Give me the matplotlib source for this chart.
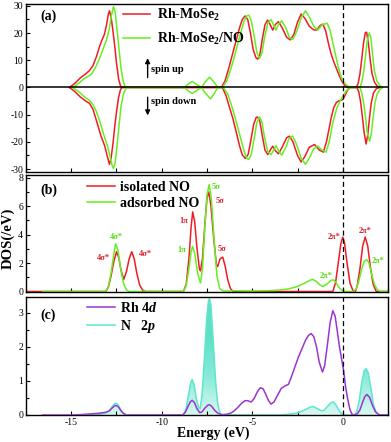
import numpy as np
import matplotlib
matplotlib.use('Agg')
import matplotlib.pyplot as plt
from matplotlib.ticker import MultipleLocator, NullFormatter
from matplotlib.colors import LinearSegmentedColormap

plt.rcParams['font.family'] = 'Liberation Serif'
plt.rcParams['mathtext.fontset'] = 'custom'
plt.rcParams['mathtext.rm'] = 'Liberation Serif:bold'
plt.rcParams['mathtext.bf'] = 'Liberation Serif:bold'
plt.rcParams['mathtext.it'] = 'Liberation Serif:bold:italic'
plt.rcParams['axes.unicode_minus'] = False

# ---- panel (a): total DOS, (energy, DOS) points
a_red_up = [(-15.1, 0), (-14.8, 1.5), (-14.5, 3.5), (-14.2, 5.0), (-14.0, 6.2), (-13.8, 8), (-13.6, 11.5),
            (-13.44, 15), (-13.3, 17.5), (-13.17, 19.5), (-13.05, 23), (-12.95, 27), (-12.89, 28.2),
            (-12.8, 26), (-12.7, 21), (-12.61, 16), (-12.5, 9), (-12.38, 3), (-12.28, 0.6), (-12.2, 0),
            (-6.7, 0), (-6.5, 2.5), (-6.3, 7), (-6.1, 12), (-5.9, 17), (-5.7, 22), (-5.55, 25), (-5.4, 26.3),
            (-5.25, 25), (-5.1, 20), (-4.95, 14), (-4.8, 11), (-4.7, 10.4), (-4.58, 12), (-4.45, 17.5),
            (-4.3, 23), (-4.15, 24.8), (-4.0, 23), (-3.87, 21.1), (-3.72, 23.2), (-3.55, 24.2), (-3.35, 22),
            (-3.1, 18.5), (-2.9, 17.5), (-2.7, 19.5), (-2.5, 24), (-2.3, 27), (-2.1, 25.5), (-1.85, 22.5),
            (-1.6, 21.2), (-1.45, 21.1), (-1.25, 22.8), (-1.1, 23.3), (-0.95, 21), (-0.8, 16.5),
            (-0.65, 12.5), (-0.5, 9.5), (-0.35, 7), (-0.2, 4.5), (-0.05, 2.3), (0.1, 0.8), (0.25, 0),
            (0.75, 0), (0.85, 1.5), (0.95, 5), (1.05, 10.5), (1.15, 16.5), (1.25, 20.2), (1.32, 20.3),
            (1.42, 16), (1.52, 10), (1.62, 5), (1.75, 2), (1.9, 0.5), (2.05, 0)]
a_green_up = [(-14.9, 0), (-14.6, 1.5), (-14.3, 3.2), (-14.0, 4.3), (-13.85, 5.2), (-13.65, 7.5),
              (-13.45, 10.5), (-13.25, 14), (-13.05, 17.5), (-12.9, 21.5), (-12.78, 26.5), (-12.67, 29.7),
              (-12.58, 28), (-12.48, 22), (-12.36, 14), (-12.24, 6.5), (-12.12, 2), (-12.0, 0),
              (-8.75, 0), (-8.55, 1.2), (-8.32, 2.2), (-8.1, 1.2), (-7.8, 0), (-7.6, 2), (-7.36, 3.8),
              (-7.12, 2), (-6.9, 0),
              (-6.65, 0), (-6.4, 2.5), (-6.2, 6.5), (-6.0, 11), (-5.8, 16), (-5.6, 21), (-5.45, 24.5),
              (-5.3, 26.3), (-5.19, 26.6), (-5.05, 24.5), (-4.9, 19), (-4.75, 13), (-4.6, 10.7),
              (-4.47, 12.5), (-4.33, 18), (-4.15, 23.5), (-3.96, 25), (-3.82, 23), (-3.69, 21.1),
              (-3.53, 23.5), (-3.37, 24.5), (-3.15, 22), (-2.95, 18.5), (-2.76, 17.7), (-2.55, 20.5),
              (-2.3, 25.5), (-2.06, 28.2), (-1.85, 26), (-1.6, 22.5), (-1.38, 21.1), (-1.15, 23),
              (-0.85, 23.6), (-0.7, 21), (-0.55, 16.5), (-0.4, 12), (-0.25, 7.5), (-0.1, 4), (0.05, 2),
              (0.25, 0.6), (0.45, 0),
              (0.95, 0), (1.05, 2), (1.15, 5.5), (1.25, 11), (1.35, 17), (1.46, 20), (1.55, 18.5),
              (1.65, 12), (1.75, 6), (1.88, 2.5), (2.05, 0.7), (2.2, 0)]
a_red_dn = [(-15.1, 0), (-14.8, -1.5), (-14.5, -3.5), (-14.2, -5), (-14.0, -5.8), (-13.8, -8),
            (-13.55, -13.5), (-13.35, -18), (-13.15, -21.5), (-13.0, -25.5), (-12.89, -28.3), (-12.8, -26),
            (-12.7, -21), (-12.6, -14.5), (-12.48, -8), (-12.38, -3.5), (-12.28, -0.8), (-12.2, 0),
            (-6.65, 0), (-6.45, -3), (-6.25, -7.5), (-6.08, -11.2), (-5.9, -16), (-5.7, -21.5),
            (-5.55, -24.8), (-5.38, -26.1), (-5.22, -24.5), (-5.08, -19.5), (-4.92, -13.5), (-4.78, -11),
            (-4.7, -10.9), (-4.58, -12.5), (-4.45, -17.5), (-4.3, -23), (-4.14, -24.7), (-4.0, -23),
            (-3.87, -21.6), (-3.72, -23.3), (-3.55, -24.4), (-3.35, -22), (-3.1, -18.5), (-2.94, -17.9),
            (-2.75, -20), (-2.5, -25), (-2.3, -27.4), (-2.1, -25.5), (-1.85, -22), (-1.56, -21),
            (-1.3, -23), (-1.07, -23.8), (-0.9, -20), (-0.75, -15), (-0.64, -11.2), (-0.5, -7.5),
            (-0.35, -5.5), (-0.2, -4.9), (0.0, -4.5), (0.12, -3), (0.25, -1.2), (0.37, 0),
            (0.78, 0), (0.88, -1.5), (0.98, -5), (1.08, -10.5), (1.18, -16.5), (1.29, -20.8),
            (1.38, -17.5), (1.48, -11), (1.58, -5.5), (1.7, -2), (1.85, -0.5), (2.03, 0)]
a_green_dn = [(-14.92, 0), (-14.6, -1.5), (-14.3, -3.3), (-14.0, -4.8), (-13.8, -6.3), (-13.6, -9),
              (-13.4, -13), (-13.2, -17.5), (-13.0, -21.5), (-12.85, -25.5), (-12.75, -28.5),
              (-12.67, -29.8), (-12.58, -28), (-12.48, -22), (-12.36, -14), (-12.24, -6.5), (-12.1, -2),
              (-11.93, 0),
              (-8.75, 0), (-8.55, -1.2), (-8.32, -2.2), (-8.1, -1.2), (-7.8, 0), (-7.6, -2), (-7.3, -4.2),
              (-7.1, -2.2), (-6.9, 0),
              (-6.6, 0), (-6.35, -2.5), (-6.15, -6.5), (-5.95, -11), (-5.75, -16), (-5.55, -21),
              (-5.4, -24.5), (-5.28, -26.2), (-5.19, -26.5), (-5.05, -24.5), (-4.9, -19), (-4.75, -13),
              (-4.6, -10.9), (-4.47, -12.5), (-4.33, -18), (-4.15, -23.5), (-3.96, -24.7), (-3.82, -23),
              (-3.69, -21.4), (-3.53, -23.5), (-3.37, -24.9), (-3.15, -22), (-2.95, -18.5),
              (-2.76, -17.9), (-2.55, -21), (-2.3, -26), (-2.06, -28.3), (-1.85, -26), (-1.6, -22.5),
              (-1.38, -21.6), (-1.15, -23), (-0.92, -23.8), (-0.75, -20), (-0.55, -13), (-0.33, -7.6),
              (-0.15, -5), (0.0, -3.3), (0.2, -1.2), (0.46, 0),
              (0.95, 0), (1.05, -2), (1.15, -5.5), (1.25, -10.5), (1.35, -16.5), (1.48, -19.8),
              (1.58, -17), (1.68, -11), (1.78, -5.5), (1.9, -2.5), (2.05, -0.7), (2.2, 0)]

# ---- panel (b): NO molecule DOS
b_isolated = [(-17.5, 0), (-13.1, 0), (-12.95, 0.3), (-12.8, 1.1), (-12.65, 2.1), (-12.5, 2.8), (-12.38, 2.4),
              (-12.25, 1.5), (-12.1, 0.85), (-11.95, 1.4), (-11.8, 2.3), (-11.66, 2.8), (-11.52, 2.3),
              (-11.38, 1.3), (-11.22, 0.45), (-11.05, 0.08), (-10.9, 0),
              (-8.8, 0), (-8.65, 0.5), (-8.5, 2.3), (-8.38, 4.5), (-8.29, 5.6), (-8.18, 4.9), (-8.05, 3.0),
              (-7.92, 1.6), (-7.86, 1.45), (-7.75, 2.3), (-7.62, 4.7), (-7.5, 6.6), (-7.4, 7.0),
              (-7.28, 6.0), (-7.12, 3.6), (-6.98, 1.9), (-6.91, 1.76), (-6.78, 2.3), (-6.63, 2.42),
              (-6.5, 1.8), (-6.35, 0.8), (-6.2, 0.2), (-6.05, 0),
              (-0.55, 0), (-0.4, 0.6), (-0.25, 2.0), (-0.1, 3.4), (0.0, 3.83), (0.1, 3.4), (0.25, 1.9),
              (0.4, 0.6), (0.55, 0.1), (0.7, 0), (0.8, 0.4), (0.95, 1.6), (1.1, 3.2), (1.24, 3.83),
              (1.38, 3.2), (1.53, 1.7), (1.68, 0.5), (1.85, 0), (2.5, 0)]
b_adsorbed = [(-16.6, 0), (-13.1, 0), (-12.95, 0.35), (-12.8, 1.3), (-12.65, 2.6), (-12.55, 3.36),
              (-12.42, 2.9), (-12.28, 1.7), (-12.12, 0.6), (-11.95, 0.1), (-11.8, 0),
              (-8.8, 0), (-8.65, 0.4), (-8.5, 1.6), (-8.38, 2.8), (-8.3, 3.17), (-8.18, 2.7), (-8.02, 1.3),
              (-7.86, 0.6), (-7.75, 1.6), (-7.62, 4.5), (-7.5, 6.8), (-7.38, 7.53), (-7.25, 6.4),
              (-7.1, 3.5), (-6.95, 1.1), (-6.8, 0.2), (-6.6, 0.03), (-6.0, 0.05), (-5.0, 0.03),
              (-4.2, 0.05), (-3.5, 0.1), (-3.0, 0.18), (-2.5, 0.35), (-2.1, 0.6), (-1.8, 0.8),
              (-1.66, 0.85), (-1.45, 0.7), (-1.25, 0.45), (-1.1, 0.35), (-0.9, 0.5), (-0.65, 0.78),
              (-0.51, 0.82), (-0.38, 0.65), (-0.22, 0.3), (-0.05, 0.08), (0.15, 0),
              (0.6, 0), (0.75, 0.2), (0.9, 0.8), (1.05, 1.6), (1.18, 2.1), (1.32, 2.25), (1.45, 2.0),
              (1.6, 1.2), (1.75, 0.5), (1.9, 0.15), (2.05, 0), (2.5, 0)]
b_labels = [('4σ*', -12.52, 3.82, 'g'), ('4σ*', -13.2, 2.37, 'r'), ('4σ*', -10.9, 2.65, 'r'),
            ('1π', -8.8, 4.95, 'r'), ('1π', -8.9, 2.94, 'g'), ('5σ', -7.0, 7.35, 'g'),
            ('5σ', -6.8, 6.4, 'r'), ('5σ', -6.66, 2.96, 'r'), ('2π*', -0.92, 1.06, 'g'),
            ('2π*', -0.46, 3.87, 'r'), ('2π*', 1.24, 4.23, 'r'), ('2π*', 1.95, 2.14, 'g')]

# ---- panel (c): projected DOS
c_rh4d = [(-16.6, 0), (-15.0, 0), (-14.5, 0.01), (-14.0, 0.03), (-13.5, 0.05), (-13.1, 0.08), (-12.9, 0.12),
          (-12.75, 0.2), (-12.6, 0.27), (-12.52, 0.28), (-12.4, 0.24), (-12.25, 0.12), (-12.1, 0.04),
          (-11.95, 0), (-8.85, 0), (-8.7, 0.08), (-8.55, 0.25), (-8.42, 0.39), (-8.32, 0.43), (-8.2, 0.37),
          (-8.05, 0.18), (-7.9, 0.07), (-7.8, 0.08), (-7.62, 0.2), (-7.45, 0.29), (-7.36, 0.3),
          (-7.25, 0.26), (-7.08, 0.14), (-6.9, 0.05), (-6.7, 0.01), (-6.45, 0.02), (-6.2, 0.05),
          (-6.0, 0.12), (-5.8, 0.22), (-5.6, 0.34), (-5.4, 0.42), (-5.25, 0.42), (-5.06, 0.38),
          (-4.9, 0.48), (-4.72, 0.68), (-4.55, 0.8), (-4.4, 0.77), (-4.25, 0.6), (-4.1, 0.42),
          (-3.96, 0.32), (-3.8, 0.38), (-3.6, 0.58), (-3.4, 0.78), (-3.2, 0.85), (-3.0, 0.9),
          (-2.85, 1.1), (-2.65, 1.4), (-2.45, 1.7), (-2.25, 1.95), (-2.05, 2.2), (-1.9, 2.33),
          (-1.75, 2.39), (-1.6, 2.3), (-1.45, 2.0), (-1.3, 1.55), (-1.12, 1.26), (-1.0, 1.45),
          (-0.85, 2.05), (-0.7, 2.7), (-0.55, 3.06), (-0.42, 2.9), (-0.3, 2.45), (-0.18, 2.0),
          (-0.05, 1.6), (0.05, 1.3), (0.15, 0.85), (0.28, 0.45), (0.4, 0.15), (0.52, 0.02), (0.62, 0),
          (0.8, 0.03), (0.95, 0.15), (1.1, 0.38), (1.22, 0.54), (1.33, 0.6), (1.48, 0.52), (1.63, 0.3),
          (1.8, 0.1), (1.97, 0.02), (2.12, 0), (2.5, 0)]
c_n2p = [(-14.0, 0), (-13.5, 0.02), (-13.1, 0.06), (-12.9, 0.12), (-12.75, 0.24), (-12.6, 0.33),
         (-12.52, 0.35), (-12.4, 0.29), (-12.25, 0.14), (-12.1, 0.04), (-11.95, 0),
         (-8.8, 0), (-8.65, 0.2), (-8.5, 0.65), (-8.4, 0.95), (-8.32, 1.04), (-8.22, 0.9), (-8.08, 0.45),
         (-7.95, 0.2), (-7.88, 0.19), (-7.78, 0.55), (-7.65, 1.6), (-7.52, 2.8), (-7.42, 3.35),
         (-7.36, 3.42), (-7.28, 3.2), (-7.16, 2.2), (-7.02, 0.95), (-6.9, 0.3), (-6.78, 0.05), (-6.65, 0),
         (-3.5, 0), (-3.0, 0.02), (-2.5, 0.06), (-2.1, 0.15), (-1.8, 0.23), (-1.66, 0.25), (-1.45, 0.2),
         (-1.2, 0.13), (-1.05, 0.13), (-0.85, 0.25), (-0.65, 0.36), (-0.51, 0.38), (-0.38, 0.3),
         (-0.2, 0.13), (-0.05, 0.03), (0.1, 0), (0.65, 0), (0.78, 0.1), (0.92, 0.45), (1.05, 0.95),
         (1.18, 1.3), (1.29, 1.36), (1.4, 1.25), (1.55, 0.8), (1.7, 0.3), (1.85, 0.07), (2.0, 0), (2.5, 0)]

RED = '#ee1c25'
GREEN = '#66ee22'
PURPLE = '#9b35d0'
CYAN = '#5fe6cc'
cols = {'r': '#e0202a', 'g': '#55dd11'}
leg_font = {'weight': 'bold', 'size': 10}


def xy(pts):
    arr = np.array(pts, dtype=float)
    return arr[:, 0], arr[:, 1]


fig = plt.figure(figsize=(3.91, 4.42), dpi=100)
W, H = 391.0, 442.0
L, R = 26 / W, 388 / W


def box(top, bot):
    return [L, 1 - bot / H, R - L, (bot - top) / H]


ax_a = fig.add_axes(box(4, 172))
ax_b = fig.add_axes(box(175, 291.5))
ax_c = fig.add_axes(box(296.7, 415))

# (a)
e, v = xy(a_red_up)
ax_a.plot(e, v, color=RED, lw=1.1, label='Rh-MoSe$_2$')
e, v = xy(a_green_up)
ax_a.plot(e, v, color=GREEN, lw=1.1, label='Rh-MoSe$_2$/NO')
e, v = xy(a_red_dn)
ax_a.plot(e, v, color=RED, lw=1.1)
e, v = xy(a_green_dn)
ax_a.plot(e, v, color=GREEN, lw=1.1)
ax_a.axhline(0, color='k', lw=1.1, zorder=3)
ax_a.set_ylim(-31.1, 30.7)
ax_a.yaxis.set_major_locator(MultipleLocator(10))
ax_a.yaxis.set_minor_locator(MultipleLocator(5))
ax_a.legend(loc='upper left', bbox_to_anchor=(0.268, 0.985), frameon=False, prop=leg_font,
            handlelength=1.95, handletextpad=0.5, labelspacing=0.62, borderpad=0, borderaxespad=0)
ax_a.text(0.039, 0.925, '(a)', transform=ax_a.transAxes, fontsize=10, fontweight='bold', va='center')
ax_a.annotate('', xy=(-10.78, 11.8), xytext=(-10.78, 2.6),
              arrowprops=dict(arrowstyle='-|>', color='k', lw=1.0, mutation_scale=7))
ax_a.annotate('', xy=(-10.78, -11.3), xytext=(-10.78, -2.6),
              arrowprops=dict(arrowstyle='-|>', color='k', lw=1.0, mutation_scale=7))
ax_a.text(-10.6, 6.6, 'spin up', fontsize=7.5, fontweight='bold', va='center')
ax_a.text(-10.6, -5.3, 'spin down', fontsize=7.5, fontweight='bold', va='center')

# (b)
e, v = xy(b_isolated)
ax_b.plot(e, v, color=RED, lw=1.1, label='isolated NO')
e, v = xy(b_adsorbed)
ax_b.plot(e, v, color=GREEN, lw=1.1, label='adsorbed NO')
ax_b.set_ylim(0, 8.2)
ax_b.yaxis.set_major_locator(MultipleLocator(2))
ax_b.yaxis.set_minor_locator(MultipleLocator(1))
ax_b.legend(loc='upper left', bbox_to_anchor=(0.1685, 0.95), frameon=False, prop=leg_font,
            handlelength=2.0, handletextpad=0.4, labelspacing=0.25, borderpad=0, borderaxespad=0)
ax_b.text(0.039, 0.87, '(b)', transform=ax_b.transAxes, fontsize=10, fontweight='bold', va='center')
for txt, ex, yv, c in b_labels:
    ax_b.text(ex, yv, txt, color=cols[c], fontsize=6, fontweight='bold', ha='center', va='center')

# (c)
e, v = xy(c_n2p)
fill = ax_c.fill_between(e, 0, v, color='none', lw=0)
grad = LinearSegmentedColormap.from_list('g', ['#d8f8f1', '#86eada', '#5ee0c6', '#5ee0c6'])
img = ax_c.imshow(np.linspace(0, 1, 256).reshape(-1, 1), extent=[-17.5, 2.5, 0, 3.5],
                  origin='lower', aspect='auto', cmap=grad, zorder=1)
img.set_clip_path(fill.get_paths()[0], transform=ax_c.transData)
ax_c.plot(e, v, color=CYAN, lw=1.1, label='N   2$p$', zorder=2)
e, v = xy(c_rh4d)
ax_c.plot(e, v, color=PURPLE, lw=1.1, label='Rh 4$d$', zorder=3)
h, lab = ax_c.get_legend_handles_labels()
ax_c.legend(h[::-1], lab[::-1], loc='upper left', bbox_to_anchor=(0.1685, 0.965), frameon=False,
            prop=leg_font, handlelength=2.0, handletextpad=0.4, labelspacing=0.25, borderpad=0,
            borderaxespad=0)
ax_c.text(0.039, 0.845, '(c)', transform=ax_c.transAxes, fontsize=10, fontweight='bold', va='center')
ax_c.set_ylim(0, 3.47)
ax_c.yaxis.set_major_locator(MultipleLocator(1))
ax_c.yaxis.set_minor_locator(MultipleLocator(0.5))

for ax in (ax_a, ax_b, ax_c):
    ax.axvline(0, color='k', lw=0.9, ls=(0, (4, 2.5)), zorder=4)
    ax.set_xlim(-17.5, 2.5)
    ax.xaxis.set_major_locator(MultipleLocator(5))
    ax.xaxis.set_minor_locator(MultipleLocator(2.5))
    ax.tick_params(which='both', direction='in', labelsize=7, pad=2, width=0.8)
    ax.tick_params(which='both', length=3)
    ax.tick_params(axis='y', which='minor', length=1.8)
    for s in ax.spines.values():
        s.set_linewidth(1.0)
ax_a.xaxis.set_major_formatter(NullFormatter())
ax_b.xaxis.set_major_formatter(NullFormatter())

fig.text(8 / W, 1 - 238 / H, 'DOS(/eV)', rotation=90, fontsize=10.5, fontweight='bold',
         ha='center', va='center')
fig.text(213 / W, 1 - 433 / H, 'Energy (eV)', fontsize=10, fontweight='bold', ha='center', va='center')

fig.savefig('out.png', dpi=100)
